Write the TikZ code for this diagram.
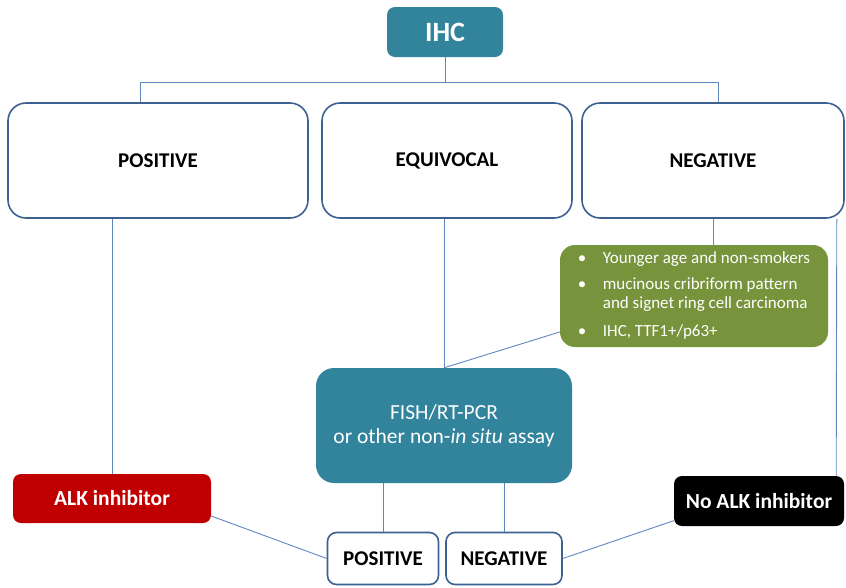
\documentclass[tikz,border=0pt]{standalone}
\usepackage{fontspec}
\setmainfont{Carlito}
\usetikzlibrary{positioning,calc}
\definecolor{ihcteal}{RGB}{49,132,155}
\definecolor{boxedge}{RGB}{60,97,145}
\definecolor{linkblue}{RGB}{95,135,190}
\definecolor{olivegreen}{RGB}{119,147,60}
\definecolor{alkred}{RGB}{192,0,0}

\begin{document}
\begin{tikzpicture}[
    x=1pt,y=-1pt,
    result/.style={draw=boxedge,line width=1.6pt,fill=white,rounded corners=18pt,
      minimum height=115pt,font=\fontsize{21}{25}\selectfont\bfseries},
    smallres/.style={draw=boxedge,line width=1.6pt,fill=white,rounded corners=9pt,
      minimum height=52pt,font=\fontsize{21}{25}\selectfont\bfseries},
    therapy/.style={rounded corners=8pt,minimum height=49pt,text=white,
      font=\fontsize{21.5}{25}\selectfont\bfseries},
    link/.style={draw=linkblue,line width=0.9pt}
  ]
  \useasboundingbox (0,0) rectangle (846,587);

  %% Test
  \node[fill=ihcteal,rounded corners=8pt,minimum width=116pt,minimum height=50pt,
    text=white,font=\fontsize{28}{32}\selectfont\bfseries] (ihc) at (445,32) {IHC};

  %% IHC results
  \node[result,minimum width=300pt] (pos) at (158,160.5) {POSITIVE};
  \node[result,minimum width=250pt] (equ) at (447,160.5) {EQUIVOCAL};
  \node[result,minimum width=262pt] (neg) at (713,160.5) {NEGATIVE};

  %% Clinical features
  \node[fill=olivegreen,rounded corners=15pt,minimum width=268pt,minimum height=102pt,
    text=white,font=\fontsize{17}{19}\selectfont] (clin) at (694,296) {%
    \begin{tabular}{@{}p{25pt}@{}l@{}}
      •&Younger age and non-smokers\\[7pt]
      •&mucinous cribriform pattern\\
       &and signet ring cell carcinoma\\[9pt]
      •&IHC, TTF1+/p63+
    \end{tabular}};

  %% Confirmation assay
  \node[fill=ihcteal,rounded corners=18pt,minimum width=256pt,minimum height=115pt,
    text=white,align=center,font=\fontsize{21.5}{24}\selectfont] (fish) at (444,425.5)
    {FISH/RT-PCR\\or other non-\textit{in situ} assay};

  %% Assay results
  \node[smallres,minimum width=111pt] (spos) at (383,558.5) {POSITIVE};
  \node[smallres,minimum width=116pt] (sneg) at (504,558.5) {NEGATIVE};

  %% Treatment
  \node[therapy,fill=alkred,minimum width=198pt] (alk) at (112,498.5) {ALK inhibitor};
  \node[therapy,fill=black,minimum width=170pt,minimum height=50pt] (noalk) at (759,501) {No ALK inhibitor};

  %% Tree from IHC
  \coordinate (busl) at (140,82);
  \coordinate (busr) at (718,82);
  \draw[link] (ihc.south) -- (ihc.south |- busl);
  \draw[link] (busl) -- (busr);
  \draw[link] (busl) -- (busl |- pos.north);
  \draw[link] (busr) -- (busr |- neg.north);

  %% Result branches
  \draw[link] (alk.north) -- (alk.north |- pos.south);
  \draw[link] (fish.north) -- (fish.north |- equ.south);
  \draw[link] (neg.south) -- (neg.south |- clin.north);
  \draw[link] (clin.195) -- (fish.north);
  \draw[link] ([xshift=-8pt]neg.south east) -- ([xshift=-8pt]noalk.north east);

  %% Assay branches
  \draw[link] (spos.north) -- (spos.north |- fish.south);
  \draw[link] (sneg.north) -- (sneg.north |- fish.south);
  \draw[link] (alk.-10) -- (spos.west);
  \draw[link] (noalk.193) -- (sneg.east);
\end{tikzpicture}
\end{document}
